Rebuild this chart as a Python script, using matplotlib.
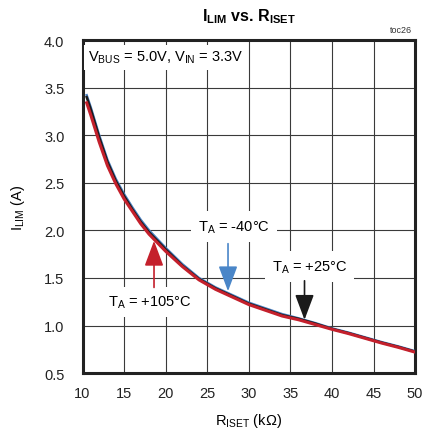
import matplotlib
matplotlib.use("Agg")
from matplotlib import pyplot as plt

plt.rcParams['font.family'] = ['Liberation Sans', 'DejaVu Sans']
plt.rcParams['mathtext.fontset'] = 'custom'
plt.rcParams['mathtext.rm'] = 'Liberation Sans'
plt.rcParams['mathtext.bf'] = 'Liberation Sans:bold'

# data
riset = [10.5, 11, 12, 13, 14, 15, 16, 17, 18, 20, 22, 24, 26, 28, 30, 32, 34, 36, 38, 40, 42, 44, 46, 48, 50]
ilim_25 = [3.40, 3.27, 2.98, 2.72, 2.52, 2.36, 2.22, 2.09, 1.98, 1.80, 1.63, 1.49, 1.39, 1.31, 1.23, 1.17, 1.11, 1.07, 1.02, 0.965, 0.92, 0.87, 0.82, 0.775, 0.725]
ilim_m40 = [3.42, 3.29, 3.00, 2.74, 2.54, 2.38, 2.24, 2.11, 2.00, 1.815, 1.645, 1.50, 1.40, 1.32, 1.24, 1.18, 1.12, 1.075, 1.025, 0.97, 0.925, 0.875, 0.825, 0.78, 0.73]
ilim_105 = [3.34, 3.21, 2.93, 2.68, 2.49, 2.33, 2.20, 2.07, 1.96, 1.78, 1.62, 1.48, 1.38, 1.30, 1.22, 1.16, 1.10, 1.06, 1.01, 0.96, 0.915, 0.865, 0.815, 0.77, 0.72]

xticks = [10, 15, 20, 25, 30, 35, 40, 45, 50]
yticks = [0.5, 1.0, 1.5, 2.0, 2.5, 3.0, 3.5, 4.0]

fig = plt.figure(figsize=(4.24, 4.35), dpi=100)
ax = fig.add_axes([0.1946, 0.140, 0.7844, 0.7657])

ax.plot(riset, ilim_m40, color="#4a7fc0", lw=1.8, zorder=3)
ax.plot(riset, ilim_25, color="#1a1a1a", lw=1.8, zorder=4)
ax.plot(riset, ilim_105, color="#c4202c", lw=2.2, zorder=5)

ax.set_xlim(10, 50)
ax.set_ylim(0.5, 4.0)
ax.set_xticks(xticks)
ax.set_yticks(yticks)
ax.set_xticklabels([str(v) for v in xticks])
ax.set_yticklabels(["%.1f" % v for v in yticks])
ax.tick_params(length=0, labelsize=10.5, colors="#222222")
ax.tick_params(axis="y", pad=13)
ax.tick_params(axis="x", pad=9)
ax.grid(True, color="#3a3a3a", lw=0.8)
ax.set_axisbelow(True)
for s in ax.spines.values():
    s.set_linewidth(2.2)
    s.set_color("#222222")

ax.set_xlabel(r"$\mathregular{R_{ISET}}$ (k$\Omega$)", fontsize=10.5, labelpad=8)
ax.set_ylabel(r"$\mathregular{I_{LIM}}$ (A)", fontsize=10.5, labelpad=12)
ax.set_title(r"$\mathbf{I_{LIM}}$ vs. $\mathbf{R_{ISET}}$", fontsize=11.5,
             fontweight="bold", pad=14)
fig.text(0.972, 0.919, "toc26", fontsize=6.5, ha="right", va="bottom", color="#333333")

box = dict(fc="white", ec="none", pad=3)
ax.text(10.7, 3.82, r"$\mathregular{V_{BUS}}$ = 5.0V, $\mathregular{V_{IN}}$ = 3.3V",
        fontsize=10.5, ha="left", va="center", bbox=box, zorder=6)

# arrows and labels
head = "-|>,head_length=1.2,head_width=0.45"
ax.annotate("", xy=(27.5, 1.36), xytext=(27.5, 1.86),
            arrowprops=dict(arrowstyle=head, color="#4a86c8", lw=1.2,
                            mutation_scale=13, shrinkA=0, shrinkB=0), zorder=7)
ax.annotate("", xy=(18.6, 1.89), xytext=(18.6, 1.40),
            arrowprops=dict(arrowstyle=head, color="#c4202c", lw=1.2,
                            mutation_scale=13, shrinkA=0, shrinkB=0), zorder=7)
ax.annotate("", xy=(36.7, 1.06), xytext=(36.7, 1.47),
            arrowprops=dict(arrowstyle=head, color="#1a1a1a", lw=1.2,
                            mutation_scale=13, shrinkA=0, shrinkB=0), zorder=7)

ax.text(28.2, 2.04, r"$\mathregular{T_A}$ = -40°C", fontsize=10.5, ha="center", va="center",
        bbox=dict(fc="white", ec="none", pad=5), zorder=6)
ax.text(37.3, 1.62, r"$\mathregular{T_A}$ = +25°C", fontsize=10.5, ha="center", va="center",
        bbox=dict(fc="white", ec="none", pad=5), zorder=6)
ax.text(18.1, 1.25, r"$\mathregular{T_A}$ = +105°C", fontsize=10.5, ha="center", va="center",
        bbox=dict(fc="white", ec="none", pad=5), zorder=6)

plt.savefig("out.png", dpi=100)
